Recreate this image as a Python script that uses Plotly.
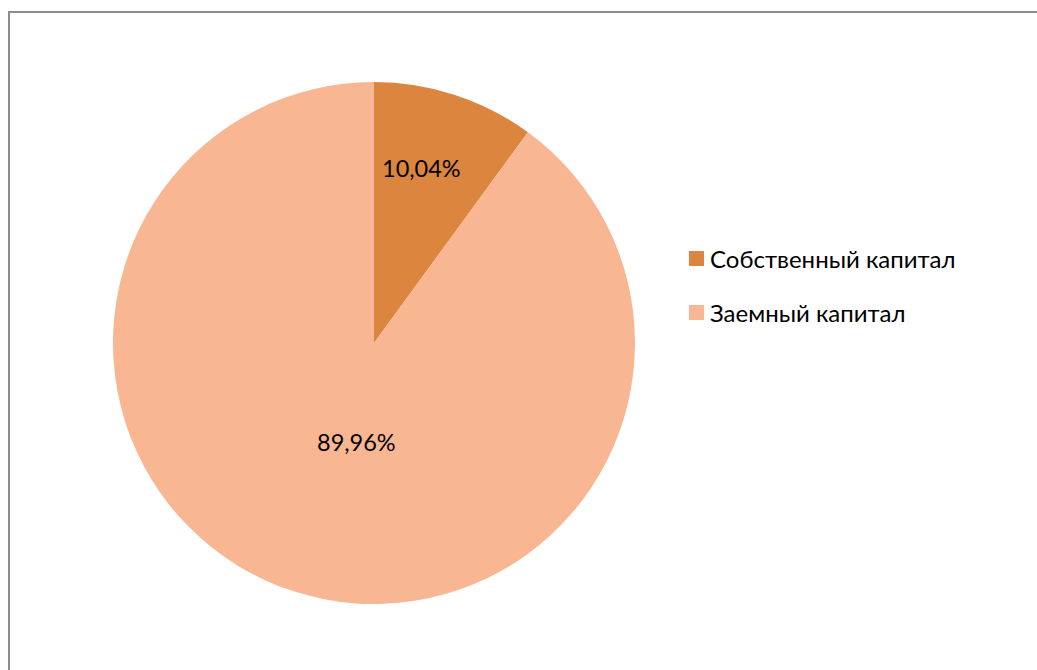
import plotly.graph_objects as go

# Capital structure
labels = ["Собственный капитал", "Заемный капитал"]
values = [10.04, 89.96]
colors = ["#DC853E", "#F9B692"]

W, H = 1037, 670
FONT = "Lato"

def px(x):
    return x / W

def py(y):
    return 1 - y / H

cx, cy, r = 374, 343, 261

fig = go.Figure(
    go.Pie(
        labels=labels,
        values=values,
        marker=dict(colors=colors, line=dict(width=0)),
        sort=False,
        direction="clockwise",
        rotation=0,
        textinfo="none",
        hoverinfo="label+percent",
        showlegend=False,
        domain=dict(x=[px(cx - r), px(cx + r)], y=[py(cy + r), py(cy - r)]),
    )
)

# value labels
label_pos = [(421, 168), (356, 442)]
for v, (x, y) in zip(values, label_pos):
    fig.add_annotation(
        x=px(x), y=py(y), xref="paper", yref="paper",
        text=f"{v:.2f}%".replace(".", ","),
        showarrow=False, font=dict(family=FONT, size=23.5, color="#000000"),
        xanchor="center", yanchor="middle",
    )

# legend
legend_rows = [258.5, 312.5]
for lab, col, y in zip(labels, colors, legend_rows):
    fig.add_shape(
        type="rect", xref="paper", yref="paper",
        x0=px(689), x1=px(704), y0=py(y + 7.5), y1=py(y - 7.5),
        fillcolor=col, line=dict(width=0),
    )
    fig.add_annotation(
        x=px(708), y=py(y), xref="paper", yref="paper",
        text=lab, showarrow=False,
        font=dict(family=FONT, size=24, color="#000000"),
        xanchor="left", yanchor="middle",
    )

# chart frame
fig.add_shape(
    type="rect", xref="paper", yref="paper",
    x0=px(9), x1=1.05, y0=-0.05, y1=py(12),
    line=dict(color="#8C8C8C", width=2), fillcolor="rgba(0,0,0,0)",
)

fig.update_layout(
    width=W, height=H,
    margin=dict(l=0, r=0, t=0, b=0),
    paper_bgcolor="#FFFFFF",
    plot_bgcolor="#FFFFFF",
    showlegend=False,
)

fig.write_html("out.html")
